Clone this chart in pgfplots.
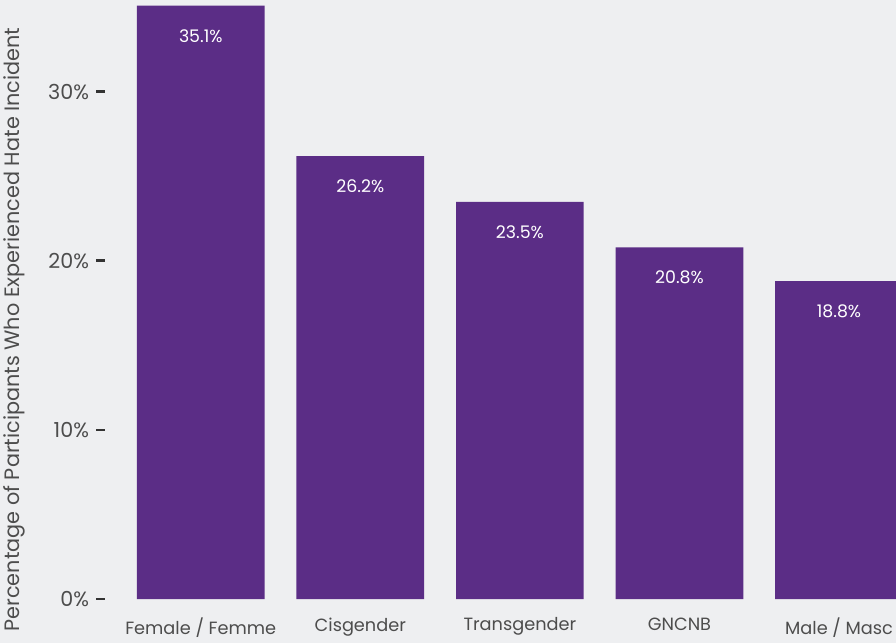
\documentclass[border=0pt]{standalone}
\usepackage{pgfplots}
\pgfplotsset{compat=1.18}
\usepackage{fontspec}
\setmainfont{Poppins}
\definecolor{bg}{RGB}{238,239,241}
\definecolor{bar}{RGB}{91,45,134}
\definecolor{txt}{RGB}{77,77,77}
\definecolor{tick}{RGB}{51,51,51}
\begin{document}
\begin{tikzpicture}
\fill[bg] (0,0) rectangle (672pt,482.25pt);
\useasboundingbox (0,0) rectangle (672pt,482.25pt);
\begin{axis}[
  at={(78.75pt,33pt)}, anchor=south west,
  scale only axis, width=593.25pt, height=449.25pt,
  xmin=-0.6, xmax=4.357, ymin=0, ymax=35.44,
  axis x line=bottom, axis y line=left,
  axis line style={draw=none,-},
  xtick=data,
  xticklabels={Female / Femme, Cisgender, Transgender, GNCNB, Male / Masc},
  ytick={0,10,20,30},
  yticklabels={0\%,10\%,20\%,30\%},
  xtick style={draw=none},
  ytick style={draw=tick, line width=2.2pt},
  tick align=outside,
  major tick length=6.5pt,
  xticklabel style={font=\fontsize{13.3}{16}\selectfont, text=txt, yshift=-6.2pt, inner sep=1pt},
  yticklabel style={font=\fontsize{15.5}{18}\selectfont, text=txt, xshift=-2pt},
  ylabel={Percentage of Participants Who Experienced Hate Incident},
  ylabel style={at={(axis description cs:-0.115,0.45)}, anchor=center, font=\fontsize{15.6}{18}\selectfont, text=txt},
  ybar, bar width=0.8, bar shift=0pt,
  nodes near coords={\pgfmathprintnumber[fixed,fixed zerofill,precision=1,assume math mode=true]{\pgfplotspointmeta}\%},
  nodes near coords style={anchor=center, yshift=-22.5pt, text=white, font=\fontsize{13}{16}\selectfont},
]
\addplot[fill=bar, draw=none] coordinates {(0,35.1) (1,26.2) (2,23.5) (3,20.8) (4,18.8)};
\end{axis}
\end{tikzpicture}
\end{document}
